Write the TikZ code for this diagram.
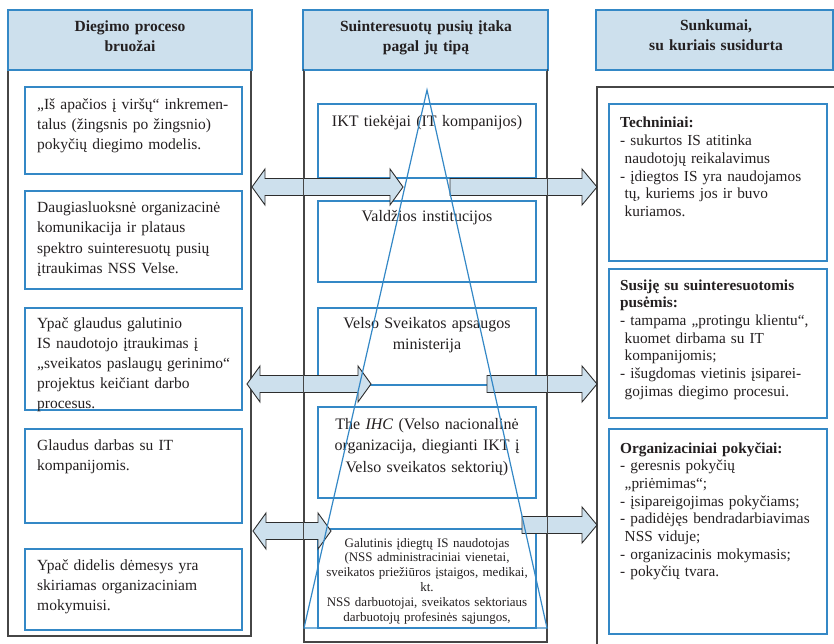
\documentclass[tikz,border=0pt]{standalone}
\usepackage{fontspec}
\setmainfont{Liberation Serif}
\usetikzlibrary{fit,calc}

\definecolor{headfill}{RGB}{205,224,237}
\definecolor{boxblue}{RGB}{52,136,198}
\definecolor{framegray}{RGB}{70,70,70}
\definecolor{arrowedge}{RGB}{45,45,45}
\definecolor{inkcol}{RGB}{35,31,32}

% block arrow with heads on both ends, between two named tip coordinates
\newcommand\twowayarrow[2]{%
  \draw[blockarrow] (#1) -- ++(13,-18) -- ++(0,9.5) -- ($(#2)+(-13,-8.5)$)
    -- ++(0,-9.5) -- (#2) -- ++(-13,18) -- ++(0,-9.5) -- ($(#1)+(13,8.5)$)
    -- ++(0,9.5) -- cycle;}
% block arrow pointing right, from a tail coordinate to a tip coordinate
\newcommand\onewayarrow[2]{%
  \draw[blockarrow] ($(#1)+(0,-8.5)$) -- ($(#2)+(-15,-8.5)$) -- ++(0,-9.5)
    -- (#2) -- ++(-15,18) -- ++(0,-9.5) -- ($(#1)+(0,8.5)$) -- cycle;}

\begin{document}
\begin{tikzpicture}[x=1pt,y=-1pt,
  colframe/.style={draw=framegray, line width=1.2pt, inner sep=0pt},
  frameline/.style={draw=framegray, line width=1.2pt},
  headbox/.style={draw=boxblue, fill=headfill, line width=1.4pt, inner sep=0pt},
  itembox/.style={draw=boxblue, line width=1.3pt, inner sep=0pt},
  blockarrow/.style={draw=arrowedge, fill=headfill, line width=0.9pt, line join=miter},
  pyramid/.style={draw=boxblue, line width=1.2pt, line join=miter},
  headtext/.style={font=\bfseries\fontsize{15.5}{20}\selectfont, text=inkcol,
    text width=236pt, align=center, inner sep=0pt, anchor=base},
  ltext/.style={font=\fontsize{15.5}{20}\selectfont, text=inkcol,
    text width=205pt, align=left, inner sep=0pt, anchor=base west},
  ctext/.style={font=\fontsize{16}{21.6}\selectfont, text=inkcol,
    text width=216pt, align=center, inner sep=0pt, anchor=base},
  csmall/.style={font=\fontsize{13}{14.8}\selectfont, text=inkcol,
    text width=216pt, align=center, inner sep=0pt, anchor=base},
  rtext/.style={font=\fontsize{15.3}{17.7}\selectfont, text=inkcol,
    text width=210pt, align=left, inner sep=0pt, anchor=base west},
]
\useasboundingbox (0,0) rectangle (834,644);
\clip (0,0) rectangle (834,644);

% column frames
\node[colframe, fit={(8,70)(251,636)}] (lcol) {};
\node[colframe, fit={(304,70)(547,642)}] (ccol) {};
\node[colframe, fit={(597,87)(845,660)}] (rcol) {};

% column headers
\node[headbox, fit={(8,10)(252,70)}] (lhead) {};
\node[headbox, fit={(303,10)(548,70)}] (chead) {};
\node[headbox, fit={(596,10)(833,70)}] (rhead) {};
\node[headtext] (lheadt) at (130,32) {Diegimo proceso\\bruožai};
\node[headtext] (cheadt) at (426,32) {Suinteresuotų pusių įtaka\\pagal jų tipą};
\node[headtext] (rheadt) at (716,31) {Sunkumai,\\su kuriais susidurta};

% left column: features of the implementation process
\node[itembox, fit={(25,87)(242,174)}] (l1) {};
\node[itembox, fit={(25,191)(242,289)}] (l2) {};
\node[itembox, fit={(25,308)(242,410)}] (l3) {};
\node[itembox, fit={(25,429)(242,523)}] (l4) {};
\node[itembox, fit={(25,549)(242,630)}] (l5) {};
\node[ltext] (l1t) at (37,110) {„Iš apačios į viršų“ inkremen-\\talus (žingsnis po žingsnio)\\pokyčių diegimo modelis.};
\node[ltext] (l2t) at (37,213) {Daugiasluoksnė organizacinė\\komunikacija ir plataus\\spektro suinteresuotų pusių\\įtraukimas NSS Velse.};
\node[ltext] (l3t) at (37,328) {Ypač glaudus galutinio\\IS naudotojo įtraukimas į\\„sveikatos paslaugų gerinimo“\\projektus keičiant darbo\\procesus.};
\node[ltext] (l4t) at (37,450) {Glaudus darbas su IT\\kompanijomis.};
\node[ltext] (l5t) at (37,570) {Ypač didelis dėmesys yra\\skiriamas organizaciniam\\mokymuisi.};

% centre column: stakeholders by type
\node[itembox, fit={(318,104)(536,178)}] (c1) {};
\node[itembox, fit={(318,201)(536,282)}] (c2) {};
\node[itembox, fit={(318,308)(536,385)}] (c3) {};
\node[itembox, fit={(318,407)(536,498)}] (c4) {};
\node[itembox, fit={(318,529)(536,628)}] (c5) {};
\node[ctext] (c1t) at (427,127) {IKT tiekėjai (IT kompanijos)};
\node[ctext] (c2t) at (427,222) {Valdžios institucijos};
\node[ctext] (c3t) at (427,328) {Velso Sveikatos apsaugos\\ministerija};
\node[ctext] (c4t) at (427,429) {The \textit{IHC} (Velso nacionalinė\\organizacija, diegianti IKT į\\Velso sveikatos sektorių)};
\node[csmall] (c5t) at (427,547) {Galutinis įdiegtų IS naudotojas\\(NSS administraciniai vienetai,\\sveikatos priežiūros įstaigos, medikai,\\kt.\\NSS darbuotojai, sveikatos sektoriaus\\darbuotojų profesinės sąjungos,};

% right column: difficulties encountered
\node[itembox, fit={(609,104)(827,261)}] (r1) {};
\node[itembox, fit={(609,269)(827,418)}] (r2) {};
\node[itembox, fit={(609,429)(827,634)}] (r3) {};
\node[rtext] (r1t) at (620,128) {\textbf{Techniniai:}\\- sukurtos IS atitinka\\\hspace*{4.5pt}naudotojų reikalavimus\\- įdiegtos IS yra naudojamos\\\hspace*{4.5pt}tų, kuriems jos ir buvo\\\hspace*{4.5pt}kuriamos.};
\node[rtext] (r2t) at (620,290) {\textbf{Susiję su suinteresuotomis}\\\textbf{pusėmis:}\\- tampama „protingu klientu“,\\\hspace*{4.5pt}kuomet dirbama su IT\\\hspace*{4.5pt}kompanijomis;\\- išugdomas vietinis įsiparei-\\\hspace*{4.5pt}gojimas diegimo procesui.};
\node[rtext] (r3t) at (620,453) {\textbf{Organizaciniai pokyčiai:}\\- geresnis pokyčių\\\hspace*{4.5pt}„priėmimas“;\\- įsipareigojimas pokyčiams;\\- padidėjęs bendradarbiavimas\\\hspace*{4.5pt}NSS viduje;\\- organizacinis mokymasis;\\- pokyčių tvara.};

% arrow end points
\coordinate (a1l) at (252,187);  \coordinate (a1r) at (403,187);
\coordinate (b1s) at (450,187);  \coordinate (b1e) at (597,187);
\coordinate (a2l) at (247,384);  \coordinate (a2r) at (371,384);
\coordinate (b2s) at (487,384);  \coordinate (b2e) at (597,384);
\coordinate (a3l) at (253,531);  \coordinate (a3r) at (331,531);
\coordinate (b3s) at (522,525);  \coordinate (b3e) at (597,525);

\twowayarrow{a1l}{a1r}
\twowayarrow{a2l}{a2r}
\twowayarrow{a3l}{a3r}
\onewayarrow{b1s}{b1e}
\onewayarrow{b2s}{b2e}
\onewayarrow{b3s}{b3e}

% centre column sides run over the arrows
\draw[frameline] (ccol.north west) -- (ccol.south west);
\draw[frameline] (ccol.north east) -- (ccol.south east);

% influence pyramid
\coordinate (apex) at (427,90);
\coordinate (baseL) at (304,628);
\coordinate (baseR) at (547,628);
\draw[pyramid] (apex) -- (baseL) -- (baseR) -- cycle;
\end{tikzpicture}
\end{document}
